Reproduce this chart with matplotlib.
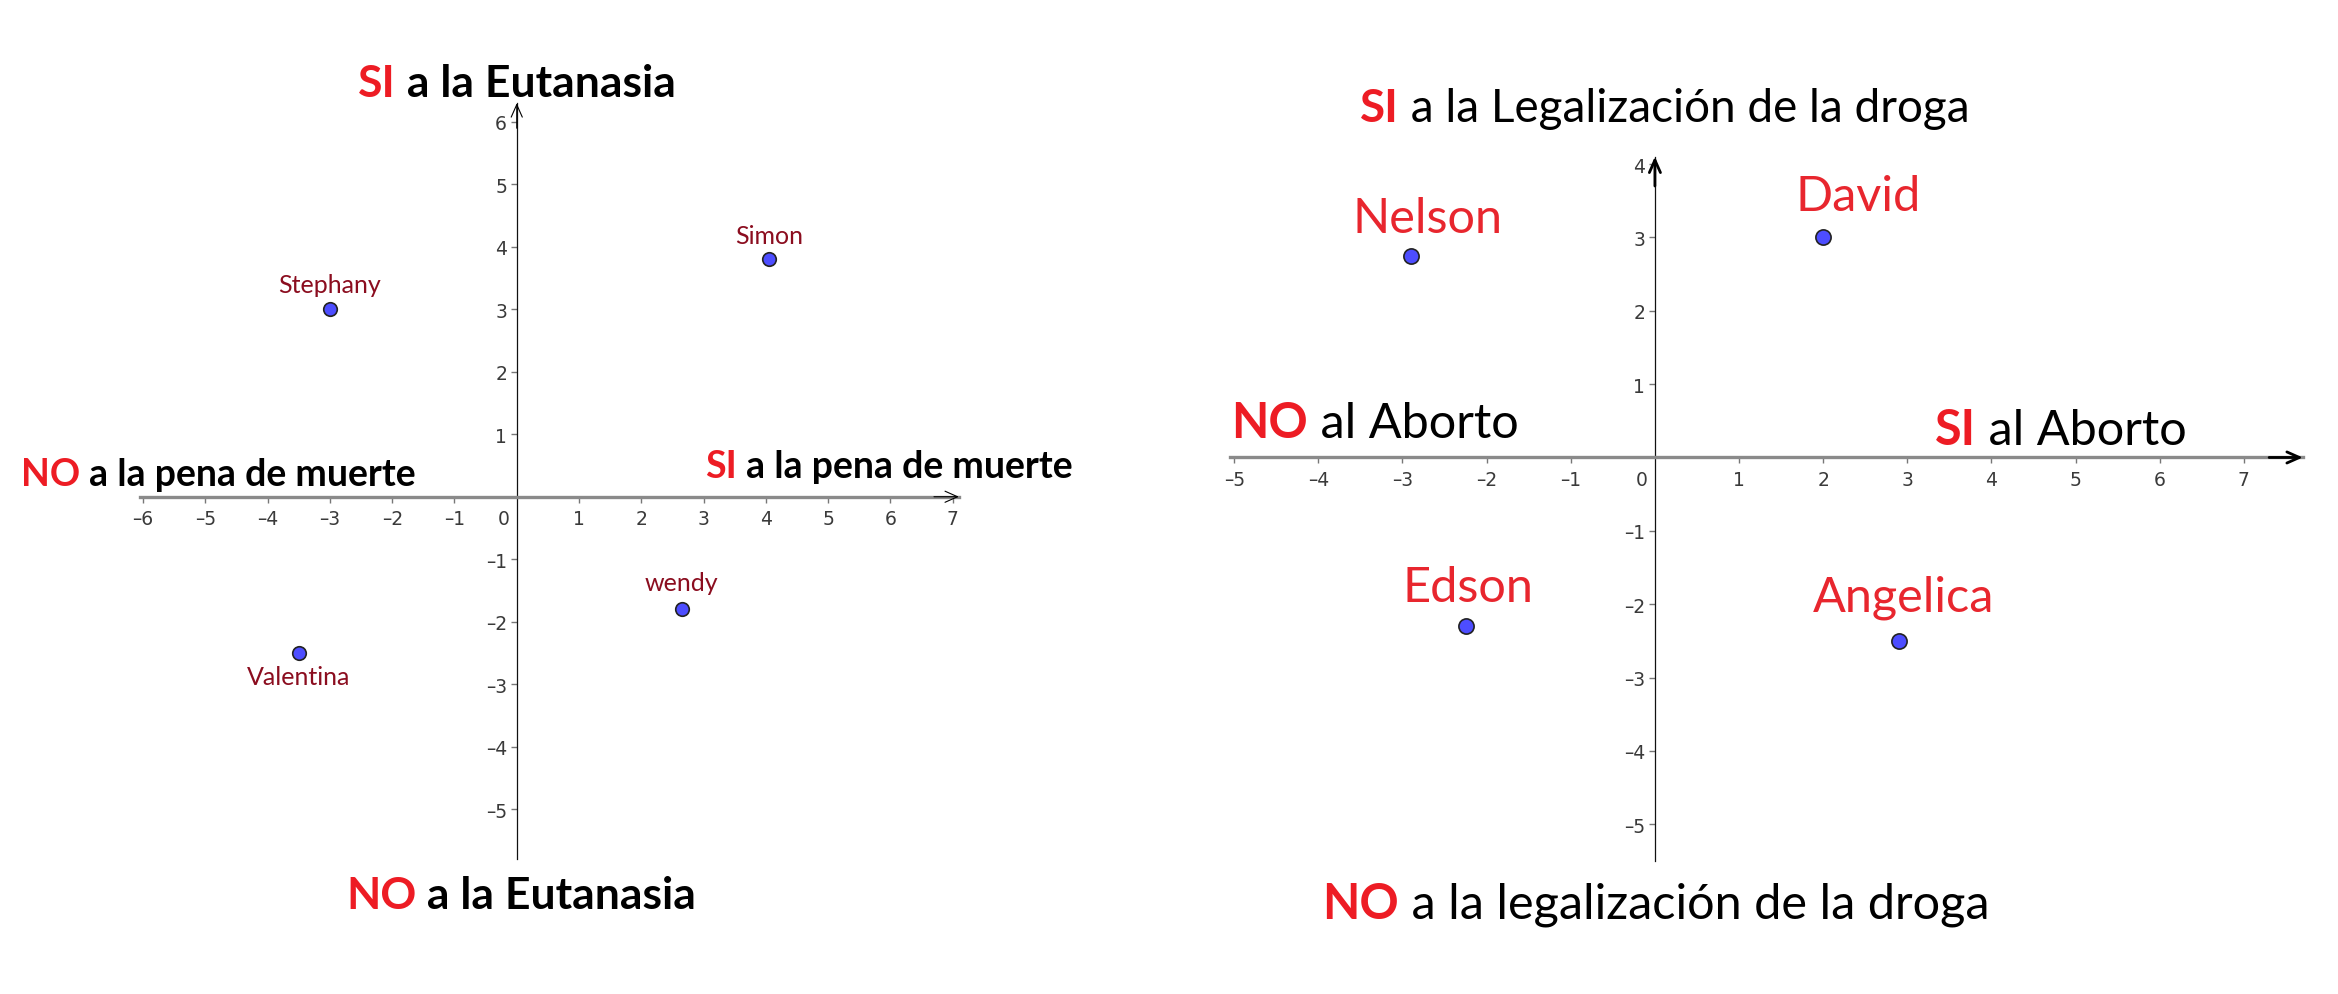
import matplotlib.pyplot as plt

RED = '#ed1c24'
DARK_RED = '#8b0d1f'
POINT_BLUE = '#4d4dff'

# Euthanasia / death penalty chart
eut_names = ['Stephany', 'Simon', 'wendy', 'Valentina']
eut_x = [-3.0, 4.05, 2.65, -3.5]
eut_y = [3.0, 3.8, -1.8, -2.5]
eut_label_dy = [18, 17, 19, -17]
eut_xticks = [-6, -5, -4, -3, -2, -1, 1, 2, 3, 4, 5, 6, 7]
eut_yticks = [-5, -4, -3, -2, -1, 1, 2, 3, 4, 5, 6]

# Abortion / drug legalisation chart
drug_names = ['Nelson', 'David', 'Edson', 'Angelica']
drug_x = [-2.9, 2.0, -2.25, 2.9]
drug_y = [2.75, 3.0, -2.3, -2.5]
drug_label_dx = [12, 25, 2, 3]
drug_label_dy = [27, 30, 28, 32]
drug_xticks = [-5, -4, -3, -2, -1, 1, 2, 3, 4, 5, 6, 7]
drug_yticks = [-5, -4, -3, -2, -1, 1, 2, 3, 4]

W, H = 2338, 995
FONT = 'Lato'


def setup_axis(ax, xlim, ylim, xbound, ybound, xticks, yticks, head_lw):
    ax.set_xlim(*xlim)
    ax.set_ylim(*ylim)
    for side in ('top', 'right'):
        ax.spines[side].set_visible(False)
    ax.spines['bottom'].set_position(('data', 0))
    ax.spines['left'].set_position(('data', 0))
    ax.spines['bottom'].set_bounds(*xbound)
    ax.spines['left'].set_bounds(*ybound)
    ax.spines['bottom'].set_color('#8a8a8a')
    ax.spines['bottom'].set_linewidth(2.4)
    ax.spines['left'].set_color('#111111')
    ax.spines['left'].set_linewidth(0.9)
    ax.set_xticks(xticks)
    ax.set_yticks(yticks)
    ax.set_xticklabels([str(t).replace('-', '\u2013') for t in xticks])
    ax.set_yticklabels([str(t).replace('-', '\u2013') for t in yticks])
    ax.tick_params(axis='x', direction='out', length=4, width=1, color='#777777',
                   labelsize=13.5, labelcolor='#3a3a3a', pad=5)
    ax.tick_params(axis='y', direction='out', length=4, width=1, color='#777777',
                   labelsize=13.5, labelcolor='#3a3a3a', pad=3)
    ax.annotate('0', xy=(0, 0), xytext=(-5, -9), textcoords='offset points',
                ha='right', va='top', fontsize=13.5, color='#3a3a3a')
    ax.patch.set_alpha(0)
    # arrow heads
    ax.annotate('', xy=(xbound[1], 0), xytext=(xbound[1] - 0.4, 0),
                arrowprops=dict(arrowstyle='->,head_length=0.9,head_width=0.4',
                                lw=head_lw, color='black', shrinkA=0, shrinkB=0))
    ax.annotate('', xy=(0, ybound[1]), xytext=(0, ybound[1] - 0.4),
                arrowprops=dict(arrowstyle='->,head_length=0.9,head_width=0.4',
                                lw=head_lw, color='black', shrinkA=0, shrinkB=0))


def two_tone(fig, x, y, first, rest, size, weight):
    t1 = fig.text(x / W, 1 - y / H, first, color=RED, fontsize=size,
                  fontweight='bold', family=FONT, va='baseline', ha='left')
    ann = plt.annotate(rest, xy=(1, 0), xycoords=t1, va='bottom', ha='left',
                       fontsize=size, fontweight=weight, family=FONT, color='black',
                       annotation_clip=False)
    return t1, ann


def main():
    fig = plt.figure(figsize=(W / 100, H / 100), dpi=100)

    # left chart
    ax1 = fig.add_axes([140 / W, 1 - 860 / H, 822 / W, 762 / H])
    setup_axis(ax1, (-6.05, 7.15), (-5.8, 6.4), (-6.05, 7.1), (-5.8, 6.3),
               eut_xticks, eut_yticks, 0.8)
    ax1.scatter(eut_x, eut_y, s=95, color=POINT_BLUE, edgecolor='#222222',
                linewidth=1.2, zorder=3)
    for name, x, y, dy in zip(eut_names, eut_x, eut_y, eut_label_dy):
        ax1.annotate(name, xy=(x, y), xytext=(0, dy), textcoords='offset points',
                     ha='center', va='center', fontsize=18, family=FONT,
                     color=DARK_RED)

    # right chart
    ax2 = fig.add_axes([1230 / W, 1 - 862 / H, 1077 / W, 708 / H])
    setup_axis(ax2, (-5.05, 7.75), (-5.5, 4.15), (-5.05, 7.7), (-5.5, 4.1),
               drug_xticks, drug_yticks, 2.0)
    ax2.scatter(drug_x, drug_y, s=120, color=POINT_BLUE, edgecolor='#222222',
                linewidth=1.2, zorder=3)
    for name, x, y, dx, dy in zip(drug_names, drug_x, drug_y, drug_label_dx, drug_label_dy):
        ax2.annotate(name, xy=(x, y), xytext=(dx, dy), textcoords='offset points',
                     ha='center', va='center', fontsize=35, family=FONT,
                     color='#e8262e')

    # quadrant captions
    two_tone(fig, 358, 97, 'SI', ' a la Eutanasia', 32, 'bold')
    two_tone(fig, 346, 909, 'NO', ' a la Eutanasia', 32, 'bold')
    two_tone(fig, 21, 486, 'NO', ' a la pena de muerte', 27, 'bold')
    two_tone(fig, 705, 478, 'SI', ' a la pena de muerte', 27, 'bold')
    two_tone(fig, 1360, 122, 'SI', ' a la Legalización de la droga', 33, 'normal')
    two_tone(fig, 1322, 919, 'NO', ' a la legalización de la droga', 35, 'normal')
    two_tone(fig, 1231, 438, 'NO', ' al Aborto', 35, 'normal')
    two_tone(fig, 1935, 445, 'SI', ' al Aborto', 35, 'normal')

    fig.savefig('out.png', dpi=100, facecolor='white')


if __name__ == '__main__':
    main()
